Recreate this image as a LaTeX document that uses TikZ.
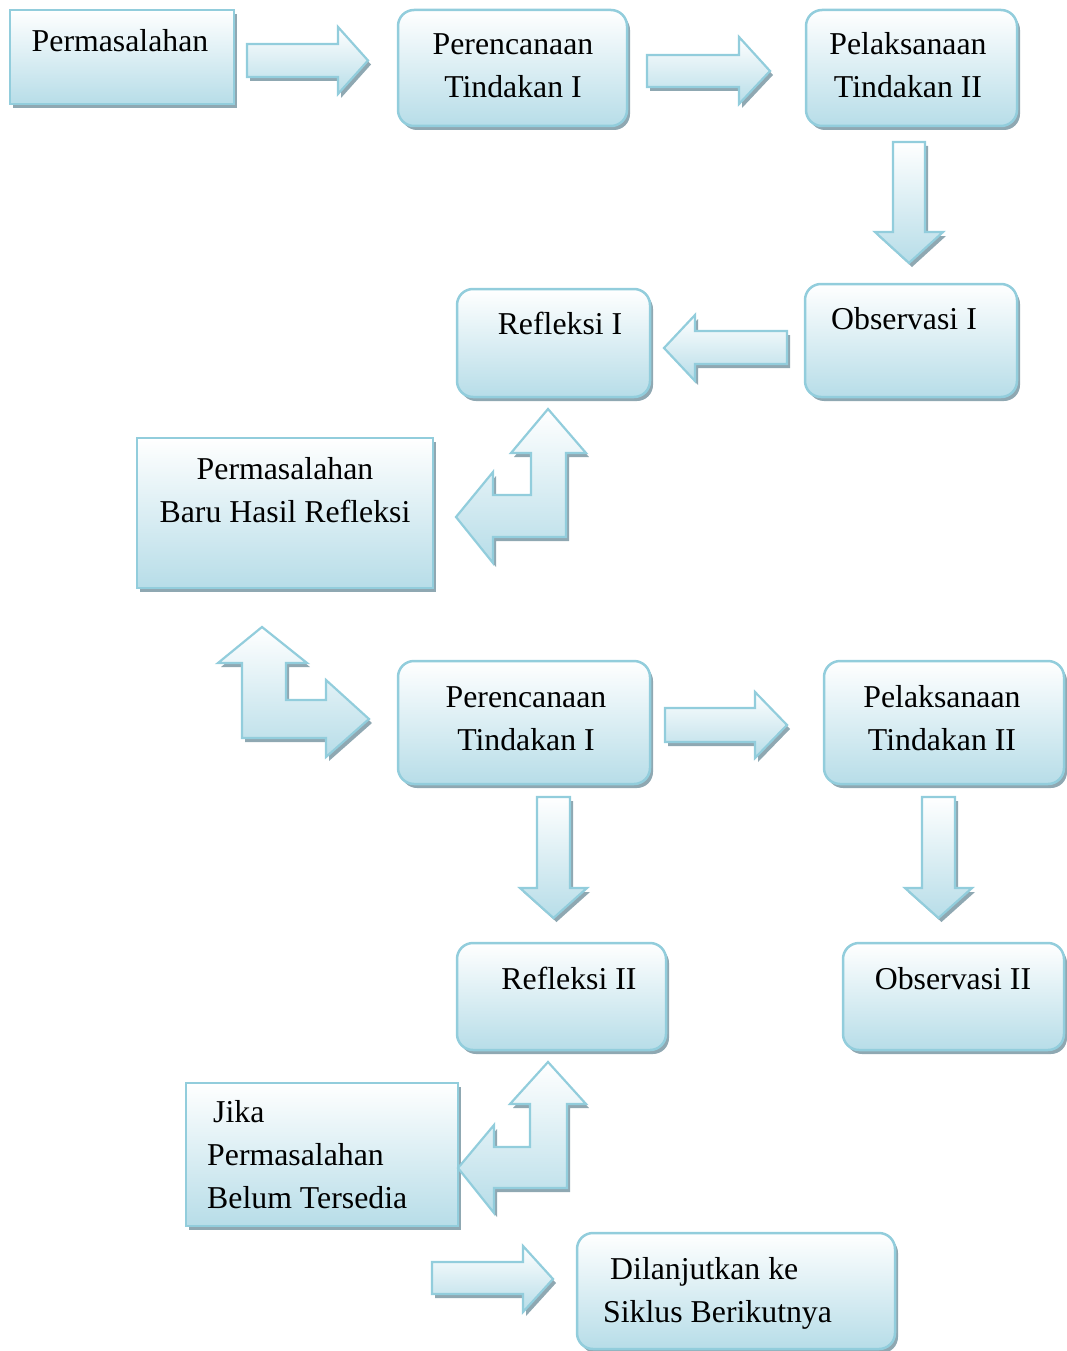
\documentclass[tikz,border=0pt]{standalone}
\usepackage{fontspec}
\setmainfont{Liberation Serif}
\usetikzlibrary{shadows}
\definecolor{bordc}{RGB}{146,205,220}
\definecolor{fillb}{RGB}{183,221,232}
\definecolor{shadowc}{RGB}{143,168,178}
\tikzset{
  shad/.style={drop shadow={shadow xshift=3pt,shadow yshift=-4pt,opacity=1,fill=shadowc}},
  boxbase/.style={shad, draw=bordc, line width=2.5pt, top color=white, bottom color=fillb, inner sep=0pt, anchor=center},
  sqbox/.style={boxbase, rectangle},
  rbox/.style={boxbase, rectangle, rounded corners=16pt},
  blockarrow/.style={shad, draw=bordc, line width=2.2pt, top color=white, bottom color=fillb, line join=miter},
  lbl/.style={font=\fontsize{31.8}{43}\selectfont, inner sep=0pt, align=center, anchor=base},
  lbll/.style={lbl, align=left, anchor=base west},
}
\begin{document}
\begin{tikzpicture}[x=1pt,y=-1pt]
\useasboundingbox (0,0) rectangle (1066,1351);
% boxes
\node[sqbox, minimum width=224pt, minimum height=94pt]  (perm1)  at (122,57) {};
\node[rbox,  minimum width=229pt, minimum height=116pt] (ren1)   at (512.5,68) {};
\node[rbox,  minimum width=211pt, minimum height=116pt] (pel1)   at (911.5,68) {};
\node[rbox,  minimum width=212pt, minimum height=113pt] (obs1)   at (911,340.5) {};
\node[rbox,  minimum width=193pt, minimum height=108pt] (ref1)   at (553.5,343) {};
\node[sqbox, minimum width=296pt, minimum height=150pt] (perm2)  at (285,513) {};
\node[rbox,  minimum width=252pt, minimum height=123pt] (ren2)   at (524,722.5) {};
\node[rbox,  minimum width=240pt, minimum height=123pt] (pel2)   at (944,722.5) {};
\node[rbox,  minimum width=209pt, minimum height=107pt] (ref2)   at (561.5,996.5) {};
\node[rbox,  minimum width=221pt, minimum height=107pt] (obs2)   at (953.5,996.5) {};
\node[sqbox, minimum width=272pt, minimum height=143pt] (jika)   at (322,1154.5) {};
\node[rbox,  minimum width=318pt, minimum height=116pt] (lanjut) at (736,1291) {};
% texts (base anchor = baseline of last line)
\node[lbl] (perm1t) at (120,52) {Permasalahan};
\node[lbl] (ren1t)  at (513,98) {Perencanaan\\Tindakan I};
\node[lbl] (pel1t)  at (908,98) {Pelaksanaan\\Tindakan II};
\node[lbl] (obs1t)  at (904,329) {Observasi I};
\node[lbl] (ref1t)  at (560,334) {Refleksi I};
\node[lbl] (perm2t) at (285,522) {Permasalahan\\Baru Hasil Refleksi};
\node[lbl] (ren2t)  at (526,750) {Perencanaan\\Tindakan I};
\node[lbl] (pel2t)  at (942,750) {Pelaksanaan\\Tindakan II};
\node[lbl] (ref2t)  at (569,989) {Refleksi II};
\node[lbl] (obs2t)  at (953,989) {Observasi II};
\node[lbll] (jikat) at (207,1208) {\hspace*{6pt}Jika\\Permasalahan\\Belum Tersedia};
\node[lbll] (lanjutt) at (603,1322) {\hspace*{7pt}Dilanjutkan ke\\Siklus Berikutnya};
% block arrows
\path[blockarrow] (247,44) -- (338,44) -- (338,27) -- (368,60.5) -- (338,94) -- (338,77) -- (247,77) -- cycle;
\path[blockarrow] (647,55) -- (739,55) -- (739,37) -- (770,71) -- (739,104) -- (739,87) -- (647,87) -- cycle;
\path[blockarrow] (893,142) -- (925,142) -- (925,232) -- (943,232) -- (909,263) -- (875,232) -- (893,232) -- cycle;
\path[blockarrow] (787,331) -- (695,331) -- (695,315) -- (664,348) -- (695,381) -- (695,364) -- (787,364) -- cycle;
\path[blockarrow] (548,409) -- (586,453) -- (566,453) -- (566,537) -- (493,537) -- (493,563) -- (456,517) -- (493,472) -- (493,495) -- (531,495) -- (531,453) -- (511,453) -- cycle;
\path[blockarrow] (262,627) -- (307,663) -- (286,663) -- (286,700) -- (326,700) -- (326,680) -- (369,719) -- (326,757) -- (326,738) -- (242,738) -- (242,663) -- (218,663) -- cycle;
\path[blockarrow] (665,708) -- (755,708) -- (755,692) -- (787,725) -- (755,758) -- (755,742) -- (665,742) -- cycle;
\path[blockarrow] (537,797) -- (570,797) -- (570,888) -- (587,888) -- (553.5,918) -- (520,888) -- (537,888) -- cycle;
\path[blockarrow] (922,797) -- (955,797) -- (955,888) -- (972,888) -- (938.5,918) -- (905,888) -- (922,888) -- cycle;
\path[blockarrow] (548,1062) -- (586,1104) -- (567,1104) -- (567,1188) -- (494,1188) -- (494,1213) -- (458,1168) -- (494,1125) -- (494,1147) -- (530,1147) -- (530,1104) -- (510,1104) -- cycle;
\path[blockarrow] (432,1262) -- (523,1262) -- (523,1246) -- (553,1279) -- (523,1312) -- (523,1294) -- (432,1294) -- cycle;
\end{tikzpicture}
\end{document}
